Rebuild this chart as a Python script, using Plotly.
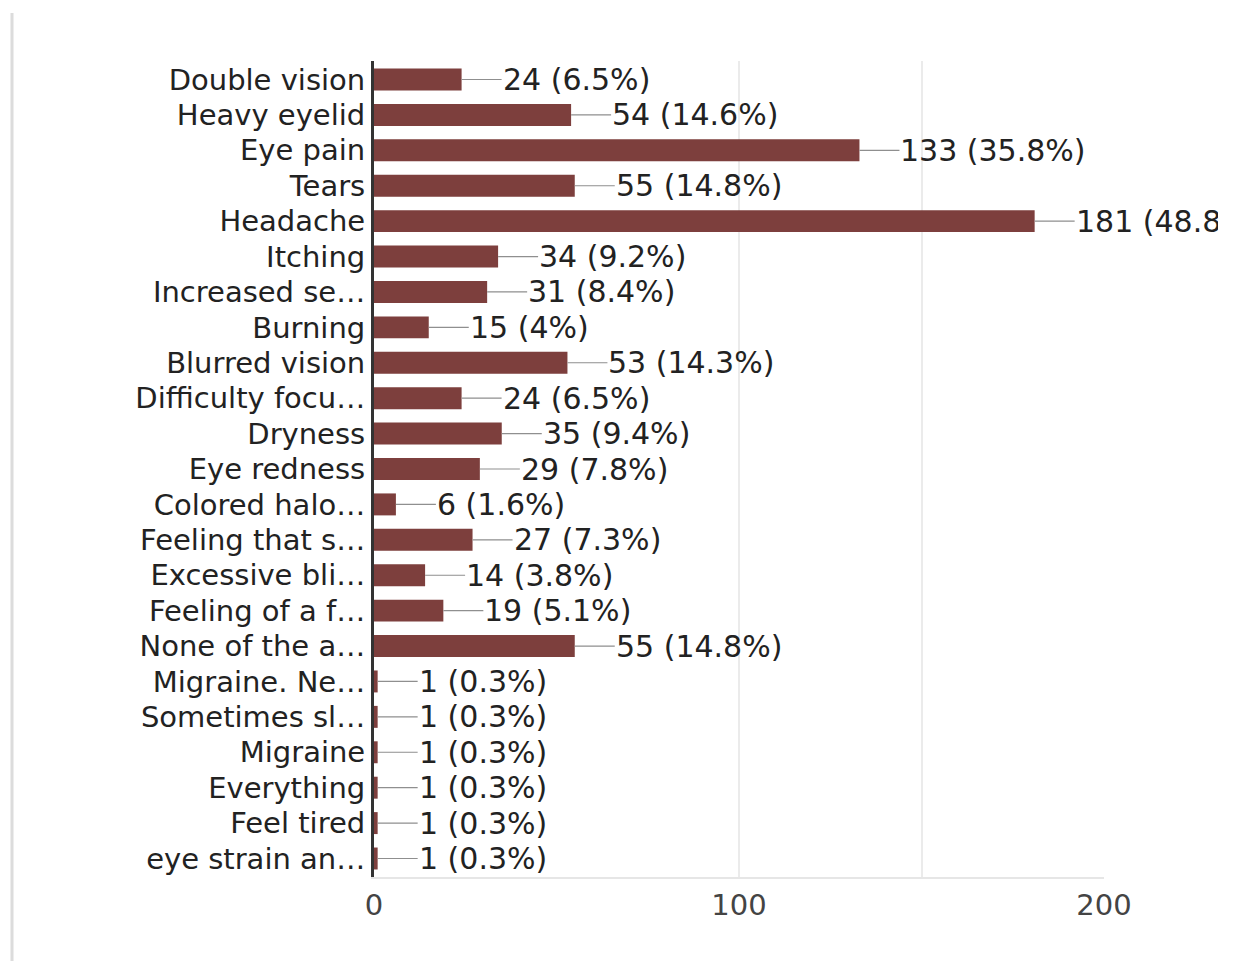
import plotly.graph_objects as go

categories = [
    "Double vision", "Heavy eyelid", "Eye pain", "Tears", "Headache", "Itching",
    "Increased se…", "Burning", "Blurred vision", "Difficulty focu…", "Dryness",
    "Eye redness", "Colored halo…", "Feeling that s…", "Excessive bli…",
    "Feeling of a f…", "None of the a…", "Migraine. Ne…", "Sometimes sl…",
    "Migraine", "Everything", "Feel tired", "eye strain an…",
]
counts = [24, 54, 133, 55, 181, 34, 31, 15, 53, 24, 35, 29, 6, 27, 14, 19, 55, 1, 1, 1, 1, 1, 1]
percents = ["6.5%", "14.6%", "35.8%", "14.8%", "48.8%", "9.2%", "8.4%", "4%", "14.3%", "6.5%",
            "9.4%", "7.8%", "1.6%", "7.3%", "3.8%", "5.1%", "14.8%", "0.3%", "0.3%", "0.3%",
            "0.3%", "0.3%", "0.3%"]
x_ticks = [0, 100, 200]
grid_vals = [100, 150, 200]

BAR = "#7d3f3d"
FONT = "DejaVu Sans"

W, H = 1218, 961
L, R, T, B = 374, W - 1104, 61, H - 877

fig = go.Figure()
fig.add_trace(go.Bar(
    x=counts, y=categories, orientation="h",
    marker=dict(color=BAR, line=dict(width=0)),
    hoverinfo="skip",
))

for c, v, p in zip(categories, counts, percents):
    fig.add_annotation(
        x=v, y=c, xref="x", yref="y",
        text=f"{v} ({p})",
        showarrow=True, arrowhead=0, arrowwidth=1.2, arrowcolor="#8f8f8f",
        ax=40, ay=0, xanchor="left", yanchor="middle",
        standoff=0, startstandoff=0, borderpad=0,
        font=dict(family=FONT, size=30, color="#222222"),
    )

# left frame line of the screenshot
pw = 1104 - L
ph = 877 - T
fig.add_shape(
    type="line", xref="paper", yref="paper",
    x0=(12 - L) / pw, x1=(12 - L) / pw,
    y0=(877 - 13) / ph, y1=(877 - 961) / ph,
    line=dict(color="#dcdcdc", width=3),
)

fig.update_layout(
    width=W, height=H,
    margin=dict(l=L, r=R, t=T, b=B, pad=0),
    paper_bgcolor="white", plot_bgcolor="white",
    bargap=0.38, showlegend=False,
    font=dict(family=FONT),
    xaxis=dict(
        range=[0, 200], tickvals=x_ticks, ticktext=[str(t) for t in x_ticks],
        showgrid=False, zeroline=False,
        showline=True, linecolor="#e6e6e6", linewidth=2, mirror=False,
        ticks="outside", ticklen=1, tickcolor="rgba(0,0,0,0)",
        tickfont=dict(family=FONT, size=29, color="#444444"),
        minor=dict(tickvals=grid_vals, showgrid=True, gridcolor="#ebebeb", gridwidth=2),
    ),
    yaxis=dict(
        categoryorder="array", categoryarray=categories, autorange="reversed",
        showgrid=False, zeroline=False,
        showline=True, linecolor="#333333", linewidth=3,
        ticks="", ticklen=0,
        tickfont=dict(family=FONT, size=29, color="#222222"),
    ),
)

fig.write_html("out.html")
